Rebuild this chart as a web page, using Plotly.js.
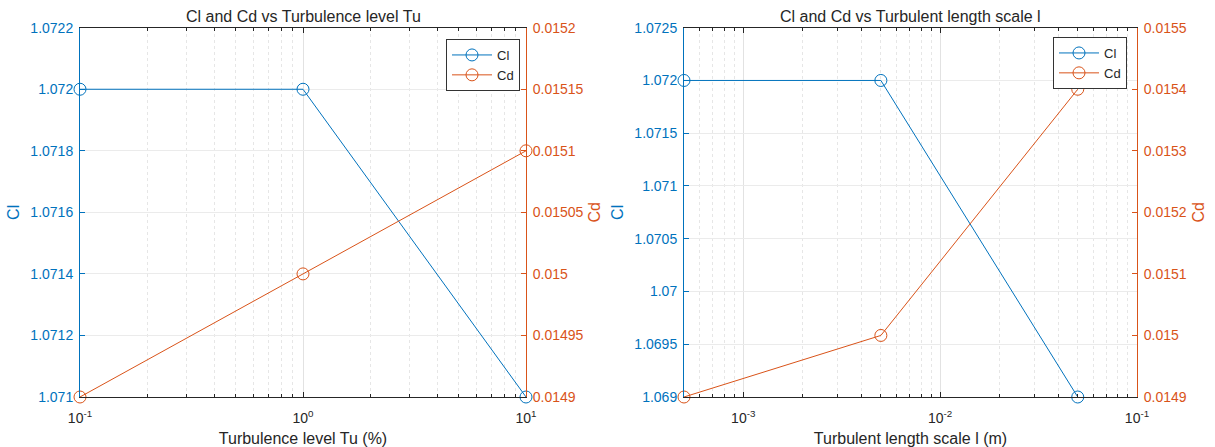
<!DOCTYPE html>
<html>
<head>
<meta charset="utf-8">
<script src="https://cdn.plot.ly/plotly-3.0.1.min.js"></script>
<style>html,body{margin:0;padding:0;background:#fff;}#chart{width:1215px;height:447px;}</style>
</head>
<body>
<div id="chart"></div>
<script>
// Left chart: turbulence level
const tuLevel = [0.1, 1, 10];
const clTu = [1.072, 1.072, 1.071];
const cdTu = [0.0149, 0.0150, 0.0151];
// Right chart: turbulent length scale
const lenScale = [0.0005, 0.005, 0.05];
const clLen = [1.072, 1.072, 1.069];
const cdLen = [0.0149, 0.0150, 0.0154];

const tuTickVals = [0.1, 1, 10];
const tuTickText = ['10<sup>-1</sup>', '10<sup>0</sup>', '10<sup>1</sup>'];
const lenTickVals = [0.001, 0.01, 0.1];
const lenTickText = ['10<sup>-3</sup>', '10<sup>-2</sup>', '10<sup>-1</sup>'];

const BLUE = '#0072BD';
const ORANGE = '#D95319';
const DARK = '#262626';
const FONT = 'Liberation Sans, Arial, Helvetica, sans-serif';

function trace(x, y, name, color, xa, ya, legend) {
  return {
    x: x, y: y, name: name, xaxis: xa, yaxis: ya, legend: legend,
    type: 'scatter', mode: 'lines+markers', cliponaxis: false,
    line: {color: color, width: 1},
    marker: {symbol: 'circle-open', size: 12, color: color, line: {width: 1, color: color}}
  };
}

const data = [
  trace(tuLevel, clTu, 'Cl', BLUE, 'x', 'y', 'legend'),
  trace(tuLevel, cdTu, 'Cd', ORANGE, 'x', 'y2', 'legend'),
  trace(lenScale, clLen, 'Cl', BLUE, 'x2', 'y3', 'legend2'),
  trace(lenScale, cdLen, 'Cd', ORANGE, 'x2', 'y4', 'legend2')
];

function xaxisDef(domain, range, vals, text, title, anchor) {
  return {
    type: 'log', domain: domain, range: range, anchor: anchor,
    tickmode: 'array', tickvals: vals, ticktext: text,
    ticks: 'inside', ticklen: 5, tickcolor: DARK, mirror: 'ticks',
    showline: true, linecolor: DARK, linewidth: 1,
    showgrid: true, gridcolor: '#e2e2e2', gridwidth: 1,
    zeroline: false, ticklabelstandoff: 8,
    tickfont: {family: FONT, size: 14, color: DARK},
    title: {text: title, font: {family: FONT, size: 16, color: DARK}, standoff: 8},
    minor: {dtick: 'D1', ticks: 'inside', ticklen: 3, tickcolor: DARK, showgrid: true, gridcolor: '#e6e6e6', griddash: 'dot', gridwidth: 1}
  };
}

function yaxisDef(range, tick0, dtick, color, title, opts) {
  return Object.assign({
    range: range, tickmode: 'linear', tick0: tick0, dtick: dtick,
    ticks: 'inside', ticklen: 5, tickcolor: color,
    showline: true, linecolor: color, linewidth: 1,
    zeroline: false, ticklabelstandoff: 3,
    tickfont: {family: FONT, size: 14, color: color},
    title: {text: title, font: {family: FONT, size: 16, color: color}, standoff: 6}
  }, opts);
}

const yDom = [1 - 397 / 447, 1 - 27.7 / 447];
const xDom1 = [80 / 1215, 526 / 1215];
const xDom2 = [684 / 1215, 1137 / 1215];

function legendDef(xr, yt) {
  return {
    x: xr / 1215, xanchor: 'right', y: 1 - yt / 447, yanchor: 'top',
    bgcolor: '#fff', bordercolor: '#333', borderwidth: 1,
    font: {family: FONT, size: 13, color: DARK}, tracegroupgap: 0, itemwidth: 40
  };
}

const layout = {
  width: 1215, height: 447,
  margin: {l: 0, r: 0, t: 0, b: 0},
  paper_bgcolor: '#fff', plot_bgcolor: '#fff',
  font: {family: FONT, color: DARK},
  showlegend: true,
  xaxis: xaxisDef(xDom1, [-1, 1], tuTickVals, tuTickText, 'Turbulence level Tu (%)', 'y'),
  xaxis2: xaxisDef(xDom2, [Math.log10(0.0005), -1], lenTickVals, lenTickText, 'Turbulent length scale l (m)', 'y3'),
  yaxis: yaxisDef([1.071, 1.0722], 1.071, 0.0002, BLUE, 'Cl', {domain: yDom, anchor: 'x', showgrid: true, gridcolor: '#ebebeb'}),
  yaxis2: yaxisDef([0.0149, 0.0152], 0.0149, 0.00005, ORANGE, 'Cd', {overlaying: 'y', side: 'right', anchor: 'x', showgrid: false}),
  yaxis3: yaxisDef([1.069, 1.0725], 1.069, 0.0005, BLUE, 'Cl', {domain: yDom, anchor: 'x2', showgrid: true, gridcolor: '#ebebeb'}),
  yaxis4: yaxisDef([0.0149, 0.0155], 0.0149, 0.0001, ORANGE, 'Cd', {overlaying: 'y3', side: 'right', anchor: 'x2', showgrid: false}),
  legend: legendDef(520, 39),
  legend2: legendDef(1127, 37),
  annotations: [
    {text: 'Cl and Cd vs Turbulence level Tu', xref: 'paper', yref: 'paper',
     x: (xDom1[0] + xDom1[1]) / 2, y: 1 - 27.7 / 447, xanchor: 'center', yanchor: 'bottom', yshift: 1,
     showarrow: false, font: {family: FONT, size: 16, color: DARK}},
    {text: 'Cl and Cd vs Turbulent length scale l', xref: 'paper', yref: 'paper',
     x: (xDom2[0] + xDom2[1]) / 2, y: 1 - 27.7 / 447, xanchor: 'center', yanchor: 'bottom', yshift: 1,
     showarrow: false, font: {family: FONT, size: 16, color: DARK}}
  ]
};

Plotly.newPlot('chart', data, layout, {displayModeBar: false, staticPlot: true});
</script>
</body>
</html>
